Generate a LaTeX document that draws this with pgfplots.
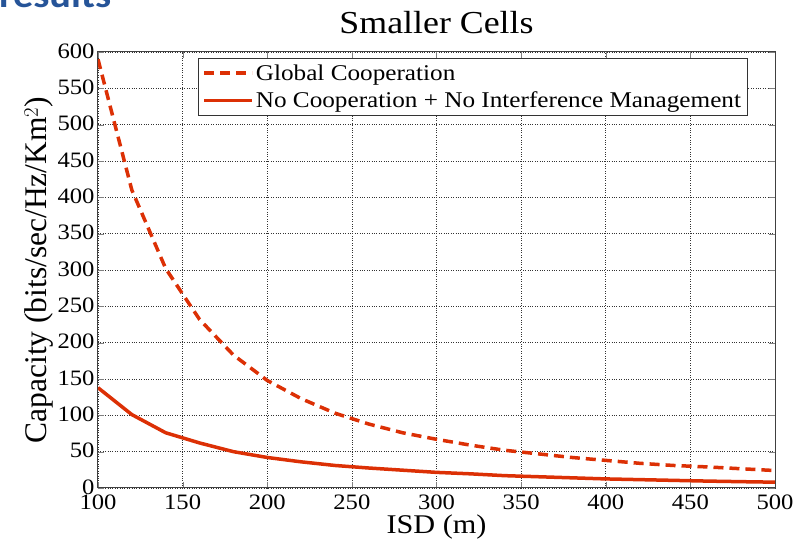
\documentclass[border=0pt]{standalone}
\usepackage{fontspec}
\setmainfont{Liberation Serif}[FakeStretch=1.12]
\newfontfamily\plainserif{Liberation Serif}
\newfontfamily\headfont{Carlito}[FakeStretch=1.12]
\usepackage{pgfplots}
\pgfplotsset{compat=1.18}
\definecolor{curve}{RGB}{220,48,5}
\definecolor{headblue}{RGB}{38,84,152}

\pgfplotstableread{
x    y
100  590
120  410
140  302
160  232
180  183
200  148
220  123
240  103
260  88
280  76
300  67
320  59
340  52
360  47
380  42
400  38
420  34
440  31
460  29
480  26.5
500  24
}\globalcoop

\pgfplotstableread{
x    y
100  138
120  101
140  76
160  62
180  50
200  42
220  36
240  31
260  27.5
280  24.5
300  21.5
320  19.5
340  17
360  15.5
380  14
400  12.5
420  11.5
440  10.5
460  9.5
480  8.7
500  8
}\nocoop

\begin{document}
\begin{tikzpicture}[x=1pt,y=1pt]
\useasboundingbox (0,0) rectangle (793,540);
\node[anchor=base west, inner sep=0pt, text=headblue, font=\headfont\fontsize{36}{40}\selectfont\bfseries] at (-1,532) {results};
\begin{axis}[
  at={(98pt,52pt)}, anchor=south west,
  scale only axis, width=677pt, height=436pt,
  xmin=100, xmax=500, ymin=0, ymax=600,
  xtick={100,150,...,500}, ytick={0,50,...,600},
  tick align=inside, major tick length=6pt,
  axis line style={black!75, line width=1pt},
  grid=major, major grid style={dotted, black!80, line width=0.7pt},
  /pgf/number format/assume math mode=true,
  tick label style={font=\fontsize{22}{24}\selectfont},
  xticklabel style={yshift=-3pt},
  yticklabel style={yshift=1pt},
  xlabel={ISD (m)},
  ylabel={Capacity (bits/sec/Hz/Km$^2$)},
  xlabel style={font=\fontsize{27}{30}\selectfont, yshift=1pt},
  ylabel style={font=\plainserif\fontsize{31.5}{34}\selectfont, yshift=-3pt},
  title={Smaller Cells},
  title style={font=\fontsize{32}{36}\selectfont, yshift=9pt},
  legend style={at={(rel axis cs:0.1477,0.986)}, anchor=north west,
    draw=black!80, line width=0.8pt, font=\fontsize{22.5}{25}\selectfont,
    inner xsep=4pt, inner ysep=4pt, row sep=6pt, fill=white},
  legend cell align=left,
  legend image code/.code={\draw[#1] (4pt,0pt) -- (52pt,0pt);},
]
\addplot[curve, line width=3.5pt, dash pattern=on 10pt off 6pt] table[x=x,y=y] {\globalcoop};
\addlegendentry{Global Cooperation}
\addplot[curve, line width=3.5pt] table[x=x,y=y] {\nocoop};
\addlegendentry{No Cooperation + No Interference Management}
\end{axis}
\end{tikzpicture}
\end{document}
